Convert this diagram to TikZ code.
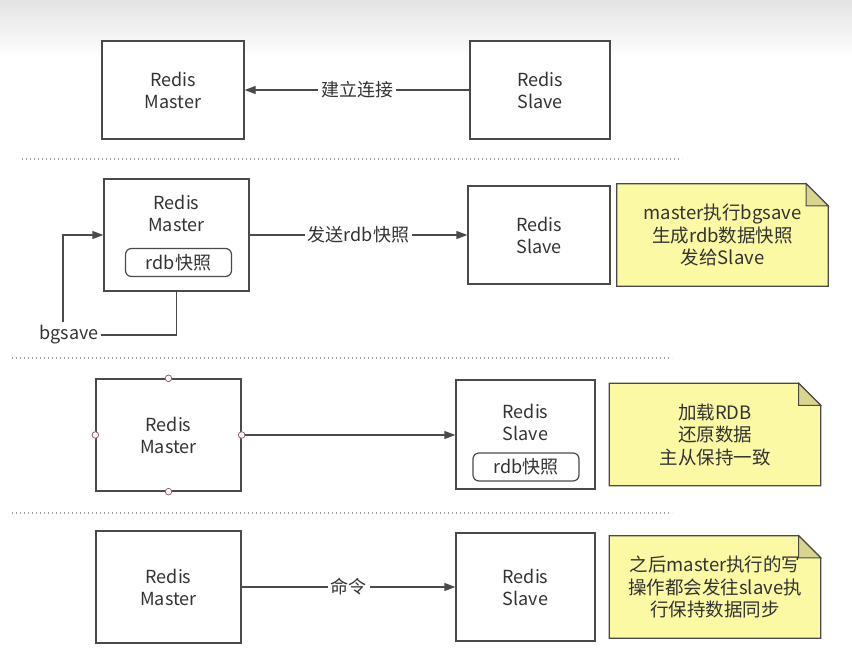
\documentclass[tikz,border=0pt]{standalone}
\usepackage{fontspec}
\setmainfont{Noto Sans CJK SC}
\usepackage{xcolor}
\usetikzlibrary{arrows.meta,positioning,calc,backgrounds}
\definecolor{tinta}{HTML}{333333}
\definecolor{borde}{HTML}{4A4A4A}
\definecolor{nota}{HTML}{FCF9A4}
\definecolor{pliegue}{HTML}{D9D58C}
\definecolor{punto}{HTML}{A0A0A0}
\definecolor{asa}{HTML}{A8586A}

\begin{document}
\begin{tikzpicture}[x=1pt,y=-1pt,font=\fontsize{18}{22}\selectfont,text=tinta,
  box/.style={draw=borde,line width=1.3pt,fill=white,align=center,inner sep=0pt},
  txt/.style={align=center,inner sep=0pt},
  snap/.style={draw=borde,line width=1.2pt,rounded corners=6pt,minimum width=106pt,minimum height=28pt,inner sep=0pt},
  flecha/.style={draw=borde,line width=1.3pt,-{Triangle[length=11pt,width=8pt]}},
  linea/.style={draw=borde,line width=1.3pt},
  lbl/.style={fill=white,inner sep=3pt},
  sep/.style={draw=punto,line width=1.1pt,dash pattern=on 1.3pt off 2.7pt},
  notabox/.style={align=center,minimum width=211pt,minimum height=102pt,inner sep=0pt,font=\fontsize{18.5}{22.5}\selectfont}]
\useasboundingbox (0,0) rectangle (852,658);
\node[box,minimum width=142pt,minimum height=98pt] (m1) at (173,90) {Redis\\Master};
\node[box,minimum width=140pt,minimum height=98pt] (s1) at (540,90) {Redis\\Slave};
\draw[flecha] (s1) -- node[lbl] {建立连接} (m1);
\draw[sep] (22,159) -- (682,159);
\node[box,minimum width=145pt,minimum height=112pt] (m2) at (176.5,235) {};
\node[txt] (m2t) at (176.5,213) {Redis\\Master};
\node[snap] (r2) at (178.5,262.5) {rdb快照};
\node[box,minimum width=142pt,minimum height=98pt] (s2) at (539,235) {Redis\\Slave};
\draw[flecha] (m2) -- node[lbl] {发送rdb快照} (s2);
\node[txt] (bg) at (69,335) {bgsave};
\draw[linea] (m2.south) |- ([xshift=2pt]bg.east);
\draw[flecha] ([xshift=-6pt,yshift=3pt]bg.north) |- (m2.west);
\node[notabox] (n2) at (722.5,235) {master执行bgsave\\生成rdb数据快照\\发给Slave};
\draw[sep] (12,358) -- (672,358);
\node[box,minimum width=145pt,minimum height=112pt] (m3) at (168.5,435) {Redis\\Master};
\node[box,minimum width=139pt,minimum height=109pt] (s3) at (525.5,434.5) {};
\node[txt] (s3t) at (525.5,422) {Redis\\Slave};
\node[snap] (r3) at (526,467) {rdb快照};
\draw[flecha] (m3.east) -- (m3.east -| s3.west);
\foreach \a in {north,south,west,east} \draw[asa,fill=white,line width=0.8pt] (m3.\a) circle (3.3pt);
\node[notabox] (n3) at (715,434.5) {加载RDB\\还原数据\\主从保持一致};
\draw[sep] (12,513) -- (672,513);
\node[box,minimum width=145pt,minimum height=112pt] (m4) at (168.5,587) {Redis\\Master};
\node[box,minimum width=139pt,minimum height=108pt] (s4) at (525.5,587) {Redis\\Slave};
\draw[flecha] (m4) -- node[lbl] {命令} (s4);
\node[notabox] (n4) at (715,587) {之后master执行的写\\操作都会发往slave执\\行保持数据同步};
\begin{scope}[on background layer]
\fill[white] (0,0) rectangle (852,658);
\shade[top color=black!11,bottom color=white] (0,0) rectangle (852,58);
\foreach \n in {n2,n3,n4} {
  \draw[borde,fill=nota,line width=1.2pt] (\n.north west) -- ([xshift=-22pt]\n.north east) -- ([yshift=-22pt]\n.north east) -- (\n.south east) -- (\n.south west) -- cycle;
  \draw[borde,fill=pliegue,line width=1pt] ([xshift=-22pt]\n.north east) -- ([xshift=-22pt,yshift=-22pt]\n.north east) -- ([yshift=-22pt]\n.north east) -- cycle;
}
\end{scope}
\end{tikzpicture}
\end{document}
